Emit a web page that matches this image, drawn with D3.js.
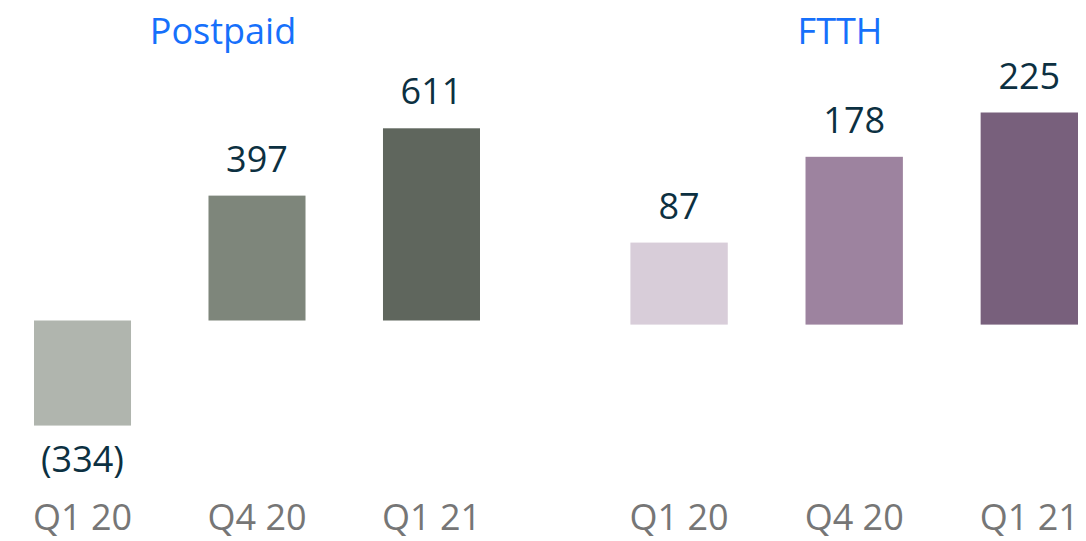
<!DOCTYPE html>
<html>
<head>
<meta charset="utf-8">
<script src="https://cdn.jsdelivr.net/npm/d3@7"></script>
<style>
  body { margin: 0; background: #fff; }
  text { font-family: "Open Sans", sans-serif; }
</style>
</head>
<body>
<div id="chart-area"></div>
<script>
// data
var quarters = ["Q1 20", "Q4 20", "Q1 21"];
var postpaidValues = [-334, 397, 611];
var ftthValues = [87, 178, 225];
var postpaidColors = ["#b0b5ae", "#7e867b", "#5f665d"];
var ftthColors = ["#d8cdd9", "#9d839f", "#78607c"];

var width = 1086, height = 541;

var svg = d3.select("#chart-area")
    .append("svg")
    .attr("width", width)
    .attr("height", height);

// label as shown in the report: negatives in brackets
function fmt(v) {
    return v < 0 ? "(" + Math.abs(v) + ")" : String(v);
}

function drawPanel(opts) {
    var data = quarters.map((q, i) => ({ q: q, v: opts.values[i], c: opts.colors[i] }));

    var x = d3.scaleBand()
        .domain(quarters)
        .range(opts.xRange)
        .paddingInner(0.444)
        .paddingOuter(0);

    var y = d3.scaleLinear()
        .domain(opts.yDomain)
        .range(opts.yRange);

    var g = svg.append("g");

    // title
    g.append("text")
        .attr("x", opts.titleX)
        .attr("y", 44)
        .attr("text-anchor", "middle")
        .attr("font-size", "36px")
        .attr("fill", "#1670fb")
        .text(opts.title);

    // bars
    g.selectAll("rect")
        .data(data)
        .enter()
        .append("rect")
        .attr("x", d => x(d.q))
        .attr("y", d => y(Math.max(0, d.v)))
        .attr("width", x.bandwidth())
        .attr("height", d => Math.abs(y(d.v) - y(0)))
        .attr("fill", d => d.c);

    // value labels
    g.selectAll(".value-label")
        .data(data)
        .enter()
        .append("text")
        .attr("class", "value-label")
        .attr("x", d => x(d.q) + x.bandwidth() / 2)
        .attr("y", d => d.v >= 0 ? y(d.v) - 24 : y(d.v) + 46)
        .attr("text-anchor", "middle")
        .attr("font-size", "36px")
        .attr("fill", "#0c3041")
        .text(d => fmt(d.v));

    // category axis (labels only)
    var axis = d3.axisBottom(x).tickSize(0).tickPadding(0);
    var ax = g.append("g")
        .attr("transform", "translate(0,530)")
        .call(axis);
    ax.select(".domain").remove();
    ax.selectAll("text")
        .attr("font-family", "Open Sans, sans-serif")
        .attr("font-size", "36px")
        .attr("fill", "#767676")
        .attr("y", 0)
        .attr("dy", 0);
}

drawPanel({
    title: "Postpaid",
    titleX: 223,
    values: postpaidValues,
    colors: postpaidColors,
    xRange: [34, 480],
    yDomain: [0, 611],
    yRange: [320.5, 128.3]
});

drawPanel({
    title: "FTTH",
    titleX: 840,
    values: ftthValues,
    colors: ftthColors,
    xRange: [630.4, 1078],
    yDomain: [0, 225],
    yRange: [324.6, 112.5]
});
</script>
</body>
</html>
